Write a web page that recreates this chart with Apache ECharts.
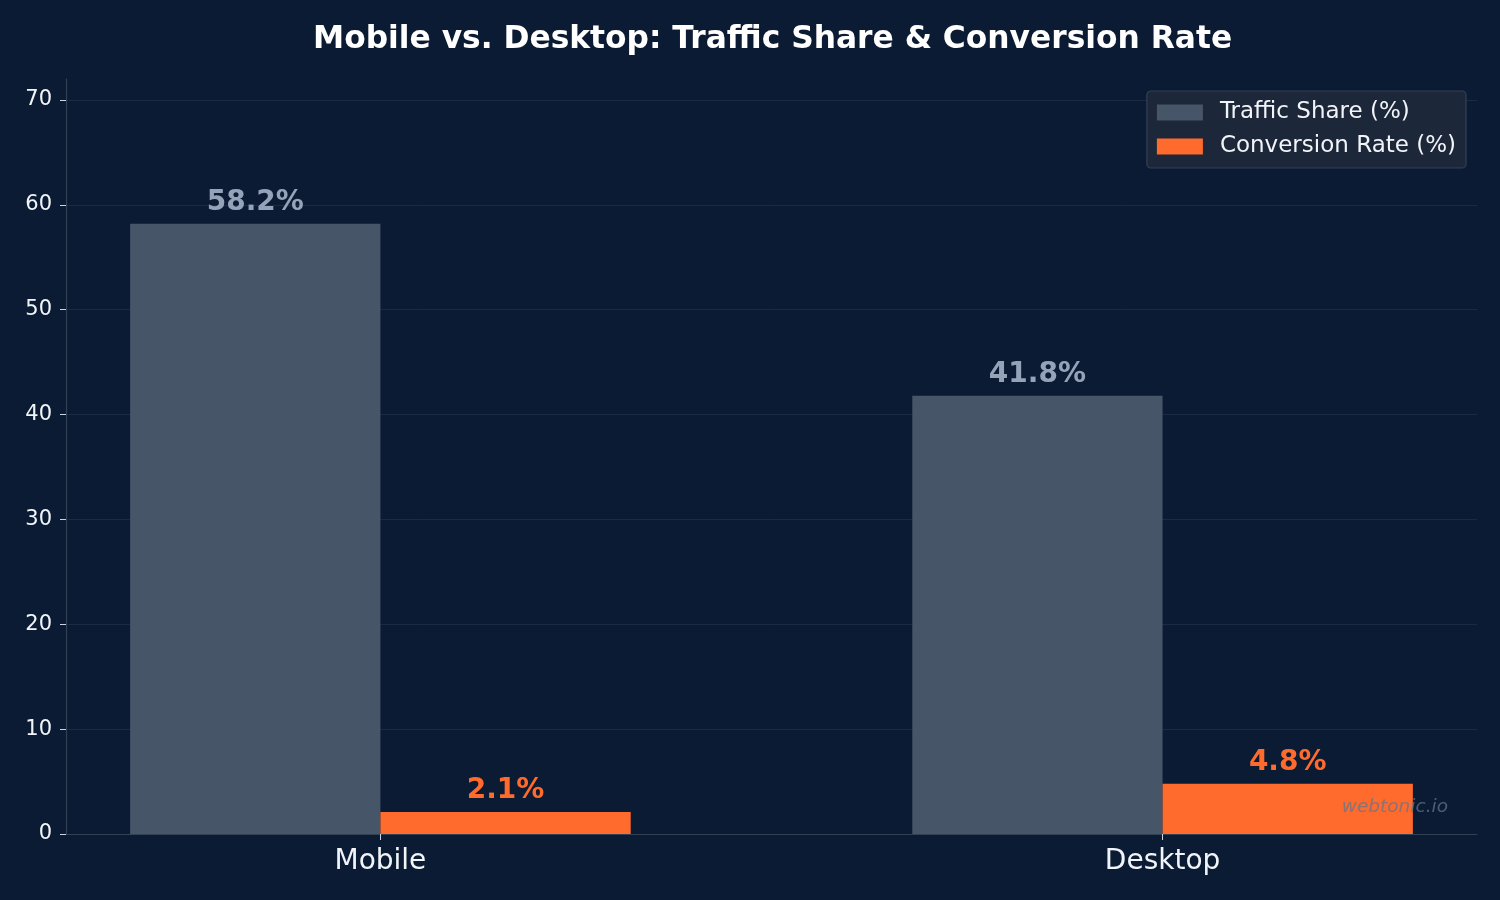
<!DOCTYPE html>
<html>
<head>
<meta charset="utf-8">
<title>Mobile vs. Desktop</title>
<script src="https://cdn.jsdelivr.net/npm/echarts@6/dist/echarts.min.js"></script>
<style>
  html, body { margin: 0; padding: 0; background: #0b1b33; }
  #chart { width: 1500px; height: 900px; }
</style>
</head>
<body>
<div id="chart"></div>
<script>
// data
const categories = ['Mobile', 'Desktop']
const trafficShare = [58.2, 41.8]
const conversionRate = [2.1, 4.8]
const yTicks = [0, 10, 20, 30, 40, 50, 60, 70]

const BAR_W = 0.32
const X_PAD = 0.05 * (categories.length - 1 + 2 * BAR_W)
const FONT = '"DejaVu Sans", sans-serif'

const chart = echarts.init(document.getElementById('chart'))

// bar with value label on top, offset from the category centre
const makeRenderItem = (offset, labelColor) => (params, api) => {
    const x = api.value(0) + offset
    const y = api.value(1)
    const tl = api.coord([x - BAR_W / 2, y])
    const br = api.coord([x + BAR_W / 2, 0])
    return {
        type: 'rect',
        shape: { x: tl[0], y: tl[1], width: br[0] - tl[0], height: br[1] - tl[1] },
        style: { fill: api.visual('color') },
        textContent: {
            style: {
                text: y.toFixed(1) + '%',
                fill: labelColor,
                font: 'bold 28px ' + FONT
            }
        },
        textConfig: { position: 'top', distance: 7 }
    }
}

const option = {
    backgroundColor: '#0b1b33',
    textStyle: { fontFamily: FONT },
    animation: false,
    title: {
        text: 'Mobile vs. Desktop: Traffic Share & Conversion Rate',
        left: 308,
        top: 19,
        textStyle: { color: '#ffffff', fontSize: 31.3, fontWeight: 'bold', fontFamily: FONT }
    },
    legend: {
        orient: 'vertical',
        right: 34,
        top: 91,
        padding: [8, 10, 8, 10],
        itemWidth: 46,
        itemHeight: 16,
        itemGap: 7,
        backgroundColor: '#1c2739',
        borderColor: '#334155',
        borderWidth: 1.2,
        borderRadius: 4,
        icon: 'rect',
        textStyle: { color: '#f1f5f9', fontSize: 23, padding: [0, 0, 0, 12], lineHeight: 27 },
        data: ['Traffic Share (%)', 'Conversion Rate (%)']
    },
    grid: { left: 66, right: 23, top: 79, bottom: 66 },
    xAxis: {
        type: 'value',
        min: -BAR_W - X_PAD,
        max: categories.length - 1 + BAR_W + X_PAD,
        axisLine: { show: true, onZero: false, lineStyle: { color: '#334155', width: 1.2 } },
        axisTick: { show: true, customValues: categories.map((c, i) => i), length: 6, lineStyle: { color: '#cbd5e1' } },
        axisLabel: {
            customValues: categories.map((c, i) => i),
            formatter: v => categories[Math.round(v)],
            color: '#f1f5f9',
            fontSize: 28,
            margin: 14
        },
        splitLine: { show: false }
    },
    yAxis: {
        type: 'value',
        min: 0,
        max: 72,
        axisLine: { show: true, onZero: false, lineStyle: { color: '#334155', width: 1.2 } },
        axisTick: { show: true, customValues: yTicks, length: 6, lineStyle: { color: '#cbd5e1' } },
        axisLabel: { customValues: yTicks, color: '#f1f5f9', fontSize: 21, margin: 14, padding: [4, 0, 0, 0] },
        splitLine: { show: true, lineStyle: { color: 'rgba(51, 65, 85, 0.45)', width: 1 } }
    },
    graphic: [{
        type: 'text',
        right: 52,
        top: 798,
        z: 100,
        style: {
            text: 'webtonic.io',
            fill: 'rgba(100, 116, 139, 0.75)',
            font: 'italic 18.5px ' + FONT
        }
    }],
    series: [
        {
            name: 'Traffic Share (%)',
            type: 'custom',
            itemStyle: { color: '#475569' },
            encode: { x: 0, y: 1 },
            data: categories.map((c, i) => [i, trafficShare[i]]),
            renderItem: makeRenderItem(-BAR_W / 2, '#94a3b8')
        },
        {
            name: 'Conversion Rate (%)',
            type: 'custom',
            itemStyle: { color: '#ff6b2c' },
            encode: { x: 0, y: 1 },
            data: categories.map((c, i) => [i, conversionRate[i]]),
            renderItem: makeRenderItem(BAR_W / 2, '#ff6b2c')
        }
    ]
}

chart.setOption(option)
</script>
</body>
</html>
